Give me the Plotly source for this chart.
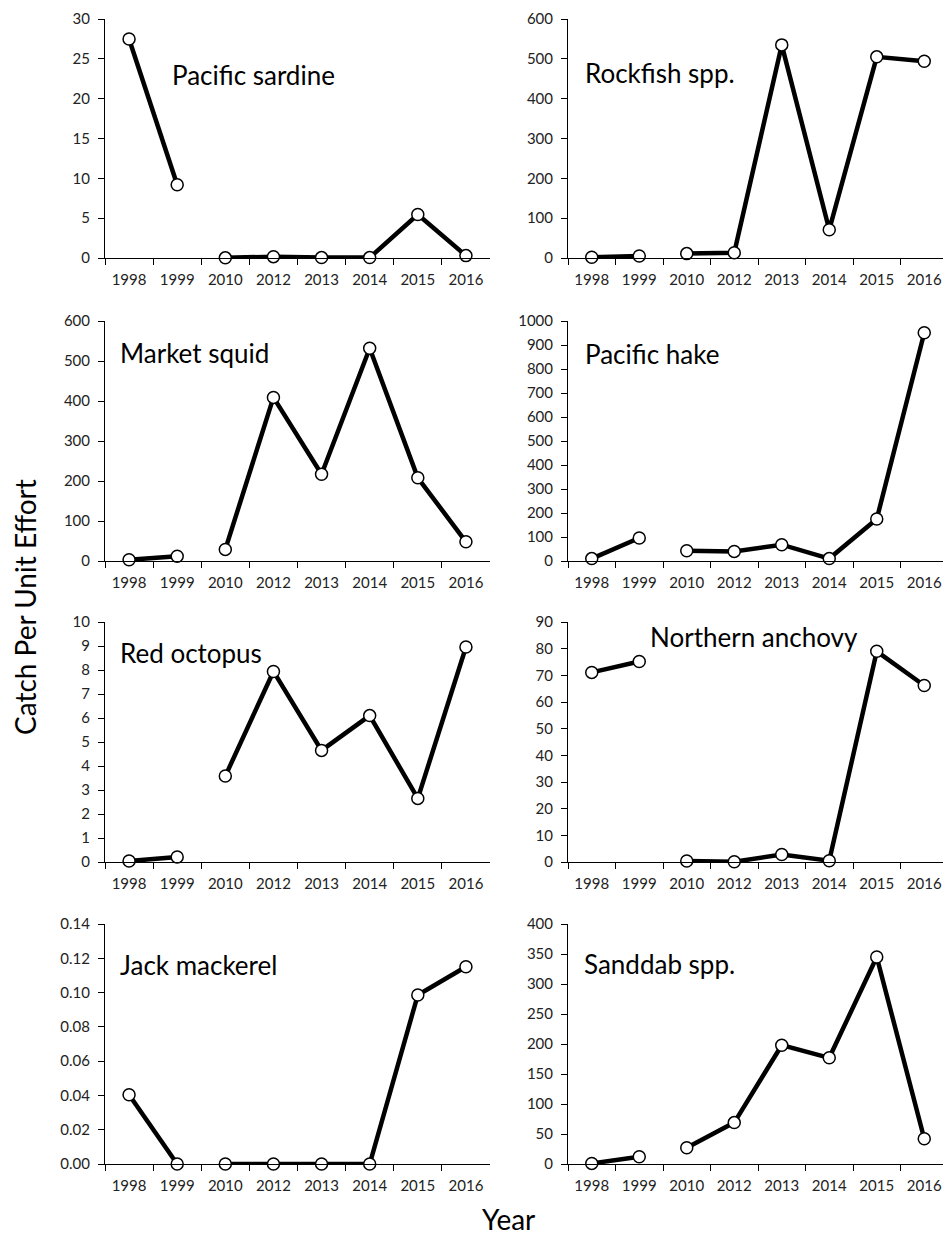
import plotly.graph_objects as go

W, H = 951, 1245
OFF = 8  # page body margin
FW, FH = W - OFF, H - 2 * OFF

years = ["1998", "1999", "2010", "2012", "2013", "2014", "2015", "2016"]

species = ["Pacific sardine", "Rockfish spp.", "Market squid", "Pacific hake",
           "Red octopus", "Northern anchovy", "Jack mackerel", "Sanddab spp."]

pacific_sardine = [27.5, 9.2, 0.02, 0.17, 0.05, 0.05, 5.45, 0.3]
rockfish = [2, 5, 11, 13, 535, 71, 505, 494]
market_squid = [3, 12, 29, 409, 217, 532, 208, 48]
pacific_hake = [10, 96, 43, 40, 68, 10, 175, 951]
red_octopus = [0.04, 0.21, 3.58, 7.94, 4.65, 6.1, 2.65, 8.96]
northern_anchovy = [71.1, 75.2, 0.4, 0.1, 2.8, 0.5, 79.0, 66.2]
jack_mackerel = [0.0404, 0.0, 0.0, 0.0, 0.0, 0.0, 0.0986, 0.1151]
sanddab = [1, 12, 27, 69, 198, 177, 345, 42]

series = [pacific_sardine, rockfish, market_squid, pacific_hake,
          red_octopus, northern_anchovy, jack_mackerel, sanddab]

y_max = [30, 600, 600, 1000, 10, 90, 0.14, 400]
y_dtick = [5, 100, 100, 100, 1, 10, 0.02, 50]
y_fmt = ["d", "d", "d", "d", "d", "d", ".2f", "d"]

# layout in window pixels
col_x = [(105, 490), (568, 948)]
row_y = [(19, 258), (321, 561), (622, 862), (924, 1164)]
label_pos = [(170, 75), (583, 73), (118, 353), (583, 354),
             (118, 653), (648, 637), (118, 965), (582, 964)]

def px_x(x):
    return min(1.0, (x - OFF) / FW)

def px_y(y):
    return 1 - (y - OFF) / FH

FONT = "Lato"
fig = go.Figure()

for i, (name, vals) in enumerate(zip(species, series)):
    r, c = divmod(i, 2)
    ax = "" if i == 0 else str(i + 1)
    xa, ya = "x" + ax, "y" + ax
    for seg in (slice(0, 2), slice(2, 8)):
        fig.add_trace(go.Scatter(
            x=years[seg], y=vals[seg], xaxis=xa, yaxis=ya,
            mode="lines+markers", cliponaxis=False, showlegend=False,
            line=dict(color="black", width=4.5),
            marker=dict(symbol="circle", size=12, color="white",
                        line=dict(color="black", width=1.5)),
        ))
    x0, x1 = col_x[c]
    y0, y1 = row_y[r]
    common = dict(showline=True, linecolor="black", linewidth=1,
                  ticks="outside", tickcolor="black", ticklen=6, tickwidth=1,
                  showgrid=False, zeroline=False, automargin=False,
                  tickfont=dict(family=FONT, size=15, color="#222"))
    fig.layout["xaxis" + ax] = dict(
        domain=[px_x(x0), px_x(x1)], anchor=ya, type="category",
        categoryorder="array", categoryarray=years,
        range=[-0.5, 7.5], tickson="boundaries", ticklabelstandoff=8,
        **common)
    fig.layout["yaxis" + ax] = dict(
        domain=[px_y(y1), px_y(y0)], anchor=xa,
        range=[0, y_max[i]], dtick=y_dtick[i], tick0=0, tickformat=y_fmt[i],
        ticklabelstandoff=5, **common)
    lx, ly = label_pos[i]
    fig.add_annotation(text=name, x=px_x(lx), y=px_y(ly), xref="paper", yref="paper",
                       xanchor="left", yanchor="middle", showarrow=False,
                       font=dict(family=FONT, size=26, color="black"))

fig.add_annotation(text="Catch Per Unit Effort", x=px_x(25), y=px_y(607),
                   xref="paper", yref="paper", textangle=-90, showarrow=False,
                   xanchor="center", yanchor="middle",
                   font=dict(family=FONT, size=28, color="black"))
fig.add_annotation(text="Year", x=px_x(509), y=0,
                   xref="paper", yref="paper", showarrow=False,
                   xanchor="center", yanchor="bottom", borderpad=0,
                   font=dict(family=FONT, size=28, color="black"))

fig.update_layout(width=FW, height=FH, margin=dict(l=0, r=0, t=0, b=0, autoexpand=False),
                  plot_bgcolor="white", paper_bgcolor="white")

fig.write_html("out.html")
